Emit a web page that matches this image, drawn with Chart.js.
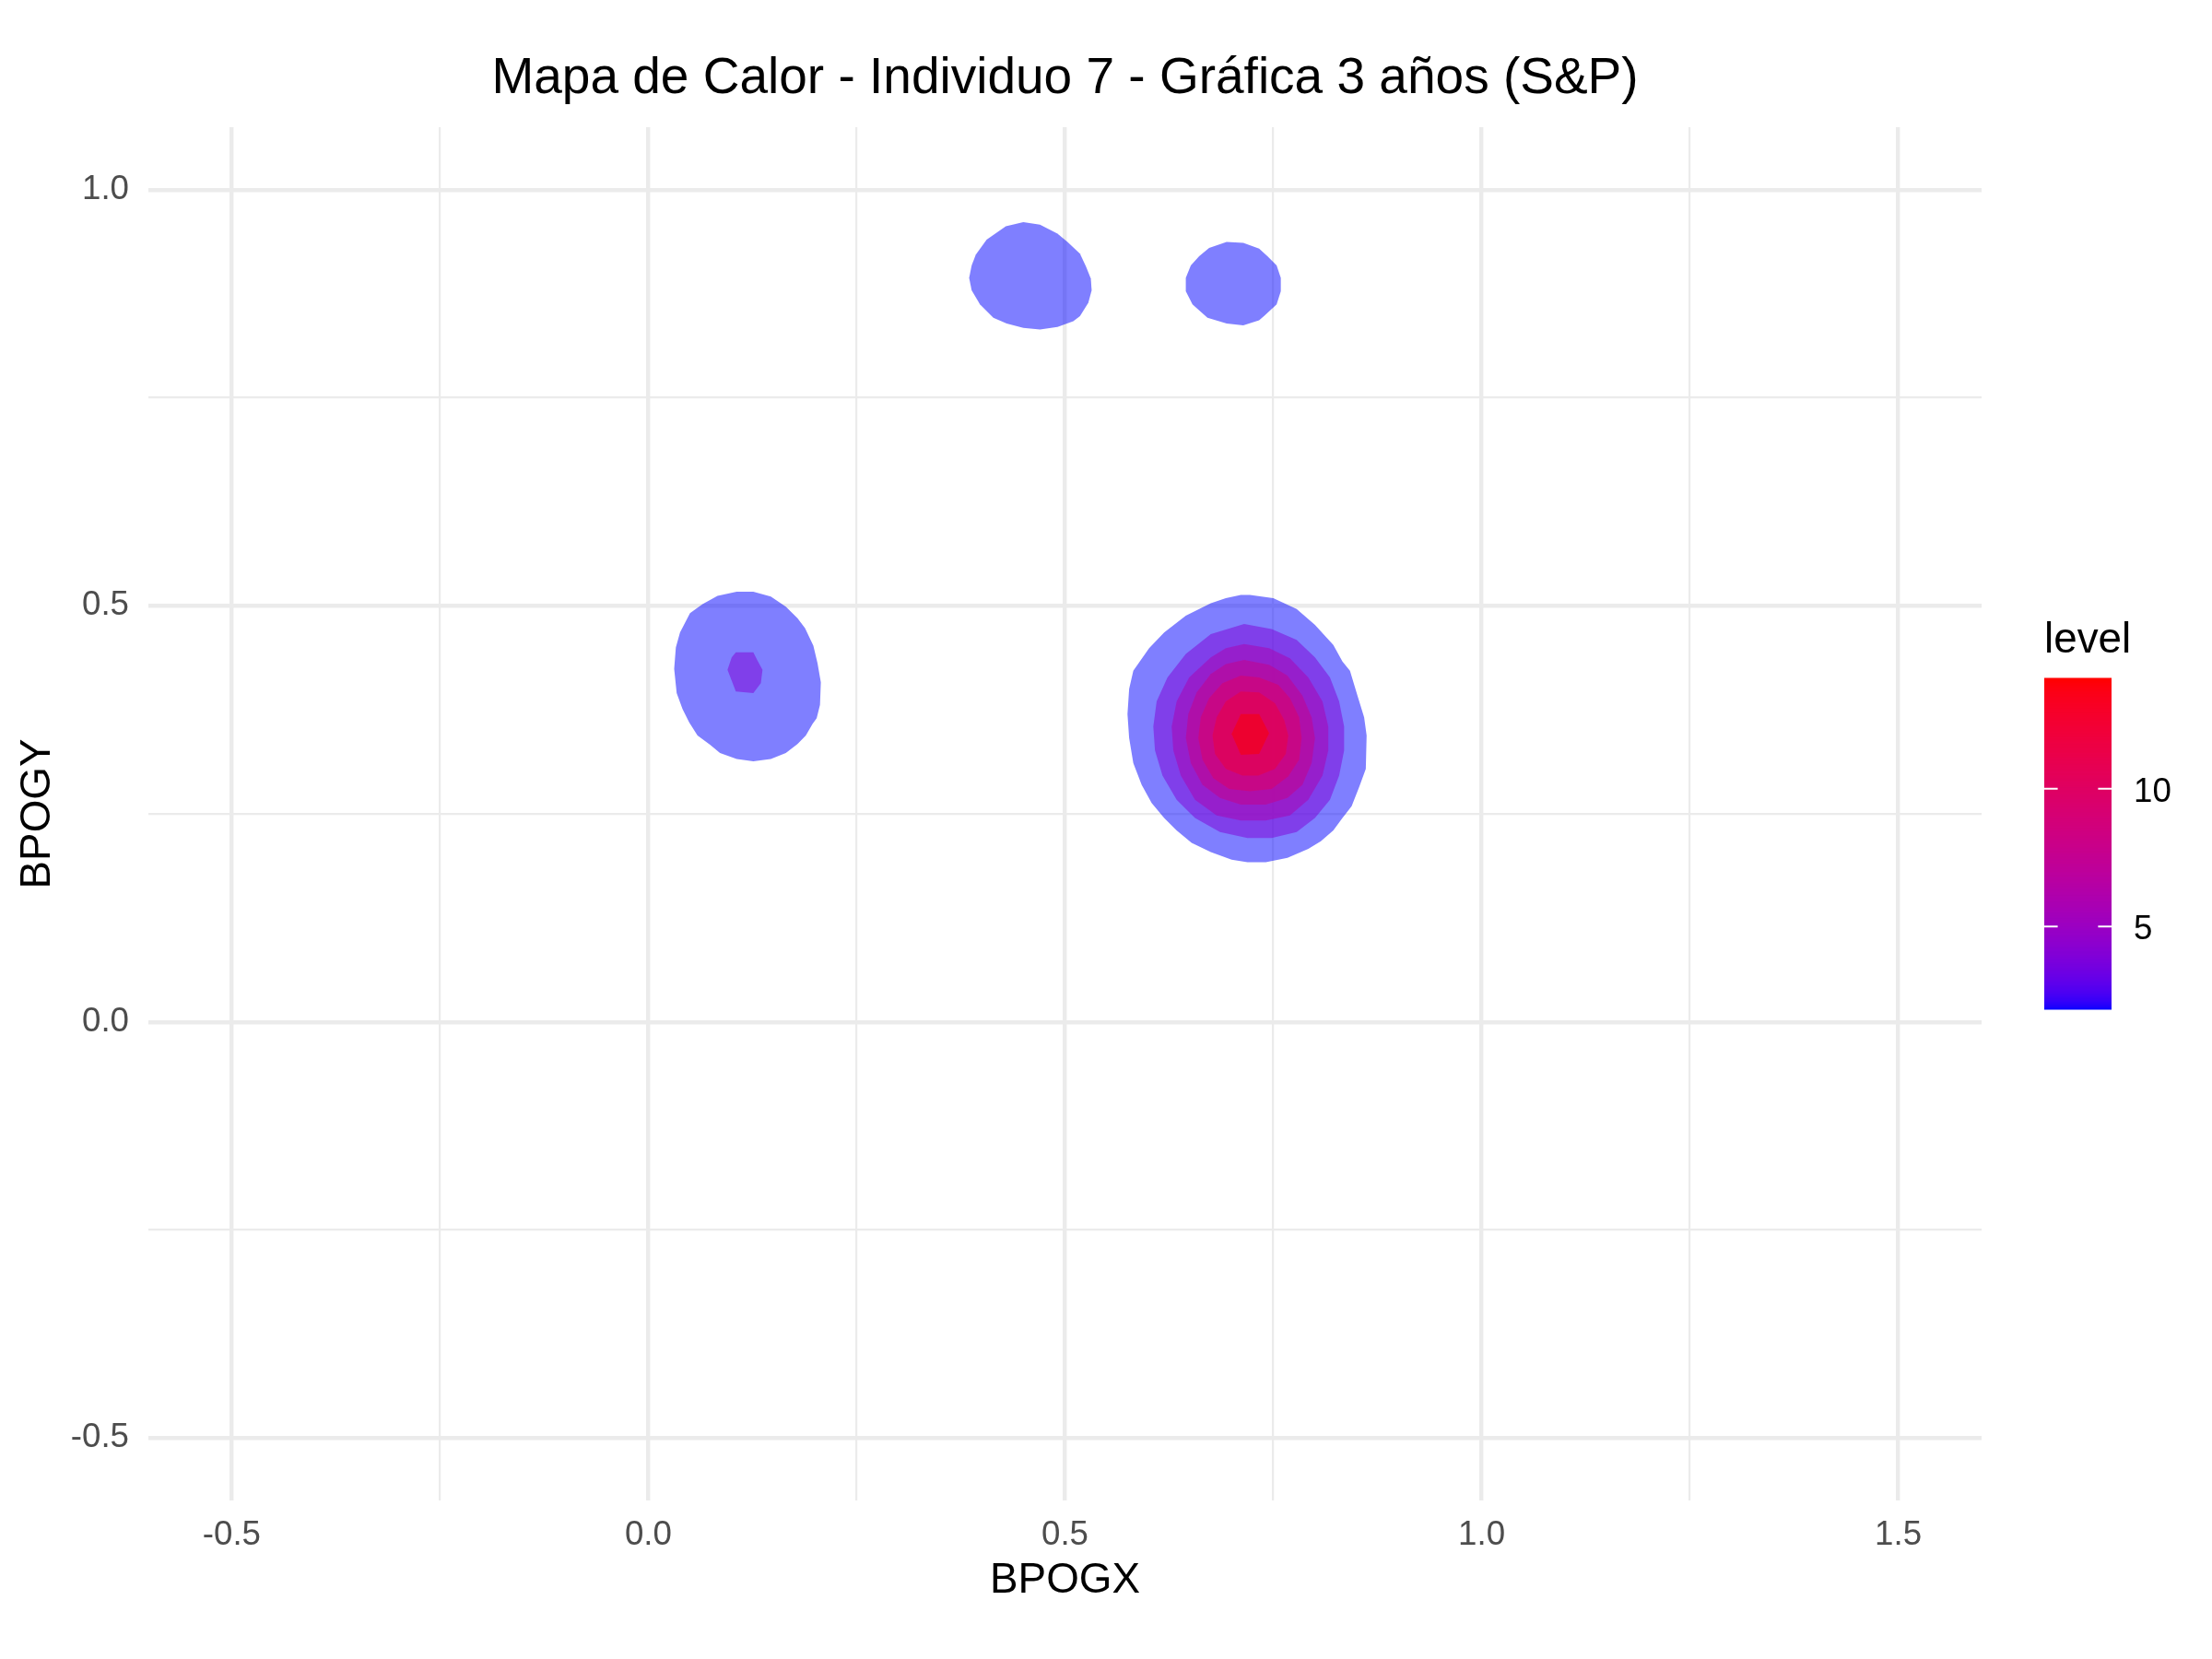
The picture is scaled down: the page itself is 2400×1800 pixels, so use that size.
<!DOCTYPE html>
<html>
<head>
<meta charset="utf-8">
<script src="https://cdn.jsdelivr.net/npm/chart.js@4.4.1/dist/chart.umd.min.js"></script>
<style>
  html, body { margin: 0; padding: 0; background: #ffffff; }
  #wrap { width: 2400px; height: 1800px; }
</style>
</head>
<body>
<div id="wrap"><canvas id="c" width="2400" height="1800"></canvas></div>
<script>
// ---------------- DATA ----------------
const chartTitle = "Mapa de Calor - Individuo 7 - Gráfica 3 años (S&P)";
const xLabel = "BPOGX";
const yLabel = "BPOGY";
const legendTitle = "level";

const xLimits = [-0.6, 1.6];
const yLimits = [-0.575, 1.075];
const xTicks = [-0.5, -0.25, 0, 0.25, 0.5, 0.75, 1.0, 1.25, 1.5];
const yTicks = [-0.5, -0.25, 0, 0.25, 0.5, 0.75, 1.0];

const contourLevels = [2, 4, 6, 8, 10, 12, 14];
const fillLimits = [2, 14];
const legendBreaks = [5, 10];
const lowColor = [0, 0, 255];
const highColor = [255, 0, 0];

// density contour polygons (x, y)
const blobA_2 = [[0.450,0.961],[0.470,0.958],[0.491,0.947],[0.503,0.937],[0.518,0.923],[0.525,0.908],[0.531,0.893],[0.532,0.879],[0.528,0.864],[0.518,0.848],[0.510,0.842],[0.491,0.835],[0.470,0.832],[0.450,0.834],[0.430,0.839],[0.414,0.846],[0.398,0.862],[0.388,0.879],[0.385,0.894],[0.388,0.909],[0.393,0.922],[0.406,0.940],[0.429,0.956]];
const blobB_2 = [[0.694,0.937],[0.714,0.936],[0.733,0.929],[0.743,0.920],[0.754,0.909],[0.759,0.894],[0.759,0.878],[0.754,0.862],[0.740,0.849],[0.733,0.843],[0.714,0.837],[0.694,0.839],[0.671,0.846],[0.653,0.862],[0.645,0.878],[0.645,0.894],[0.651,0.909],[0.661,0.920],[0.673,0.930]];
const blobC_2 = [[0.106,0.517],[0.126,0.517],[0.147,0.511],[0.165,0.499],[0.179,0.485],[0.188,0.473],[0.198,0.452],[0.203,0.431],[0.207,0.408],[0.206,0.381],[0.202,0.365],[0.197,0.358],[0.189,0.344],[0.179,0.334],[0.165,0.323],[0.147,0.316],[0.126,0.313],[0.106,0.316],[0.086,0.323],[0.074,0.333],[0.059,0.344],[0.049,0.360],[0.041,0.376],[0.034,0.395],[0.031,0.424],[0.033,0.450],[0.038,0.468],[0.050,0.491],[0.065,0.502],[0.083,0.512]];
const blobC_4 = [[0.105,0.444],[0.126,0.444],[0.131,0.434],[0.137,0.423],[0.135,0.407],[0.126,0.395],[0.105,0.397],[0.095,0.423],[0.100,0.438]];
const blobD_2 = [[0.711,0.513],[0.722,0.513],[0.750,0.509],[0.778,0.496],[0.800,0.477],[0.822,0.453],[0.833,0.433],[0.842,0.422],[0.851,0.392],[0.859,0.366],[0.862,0.344],[0.861,0.304],[0.853,0.282],[0.844,0.259],[0.833,0.245],[0.822,0.230],[0.807,0.217],[0.792,0.208],[0.767,0.197],[0.741,0.192],[0.719,0.192],[0.700,0.195],[0.675,0.204],[0.652,0.215],[0.634,0.230],[0.619,0.245],[0.604,0.263],[0.592,0.285],[0.582,0.311],[0.577,0.341],[0.575,0.370],[0.577,0.400],[0.582,0.422],[0.601,0.449],[0.619,0.468],[0.645,0.488],[0.675,0.503],[0.693,0.509]];
const blobD_4 = [[0.715,0.478],[0.748,0.472],[0.778,0.459],[0.800,0.438],[0.818,0.414],[0.829,0.385],[0.835,0.355],[0.835,0.326],[0.829,0.296],[0.818,0.267],[0.800,0.245],[0.778,0.228],[0.748,0.221],[0.719,0.221],[0.686,0.228],[0.656,0.245],[0.634,0.267],[0.617,0.296],[0.608,0.326],[0.606,0.355],[0.610,0.385],[0.623,0.414],[0.645,0.442],[0.675,0.466]];
const blobD_6 = [[0.715,0.454],[0.745,0.449],[0.770,0.437],[0.792,0.414],[0.809,0.385],[0.816,0.355],[0.816,0.326],[0.809,0.296],[0.792,0.267],[0.770,0.248],[0.741,0.242],[0.711,0.242],[0.682,0.248],[0.656,0.267],[0.639,0.296],[0.630,0.326],[0.628,0.355],[0.634,0.385],[0.649,0.414],[0.675,0.438],[0.693,0.449]];
const blobD_8 = [[0.715,0.435],[0.745,0.429],[0.767,0.416],[0.785,0.392],[0.796,0.366],[0.800,0.341],[0.796,0.311],[0.785,0.285],[0.767,0.269],[0.741,0.261],[0.711,0.261],[0.686,0.269],[0.665,0.285],[0.651,0.311],[0.645,0.341],[0.648,0.370],[0.658,0.396],[0.675,0.418],[0.693,0.430]];
const blobD_10 = [[0.711,0.416],[0.733,0.414],[0.756,0.405],[0.770,0.389],[0.781,0.366],[0.784,0.341],[0.781,0.315],[0.768,0.295],[0.748,0.280],[0.722,0.277],[0.697,0.280],[0.678,0.293],[0.665,0.315],[0.660,0.341],[0.663,0.366],[0.673,0.389],[0.689,0.407]];
const blobD_12 = [[0.711,0.397],[0.733,0.396],[0.752,0.383],[0.763,0.363],[0.768,0.344],[0.765,0.322],[0.752,0.304],[0.732,0.296],[0.713,0.296],[0.693,0.304],[0.680,0.322],[0.677,0.344],[0.682,0.366],[0.693,0.385]];
const blobD_14 = [[0.711,0.370],[0.733,0.370],[0.745,0.347],[0.733,0.322],[0.711,0.321],[0.700,0.346]];

const contourRings = [
  { level: 2,  pts: blobA_2 },
  { level: 2,  pts: blobB_2 },
  { level: 2,  pts: blobC_2 },
  { level: 4,  pts: blobC_4 },
  { level: 2,  pts: blobD_2 },
  { level: 4,  pts: blobD_4 },
  { level: 6,  pts: blobD_6 },
  { level: 8,  pts: blobD_8 },
  { level: 10, pts: blobD_10 },
  { level: 12, pts: blobD_12 },
  { level: 14, pts: blobD_14 }
];

// ---------------- COLOUR (Lab interpolation like ggplot) ----------------
function srgbToLab(c) {
  const lin = v => { v /= 255; return v <= 0.04045 ? v / 12.92 : Math.pow((v + 0.055) / 1.055, 2.4); };
  const R = lin(c[0]), G = lin(c[1]), B = lin(c[2]);
  const X = (0.4124564 * R + 0.3575761 * G + 0.1804375 * B) / 0.95047;
  const Y = (0.2126729 * R + 0.7151522 * G + 0.0721750 * B);
  const Z = (0.0193339 * R + 0.1191920 * G + 0.9503041 * B) / 1.08883;
  const f = t => t > 216 / 24389 ? Math.cbrt(t) : (24389 / 27 * t + 16) / 116;
  const fx = f(X), fy = f(Y), fz = f(Z);
  return [116 * fy - 16, 500 * (fx - fy), 200 * (fy - fz)];
}
function labToSrgb(lab) {
  const fy = (lab[0] + 16) / 116, fx = fy + lab[1] / 500, fz = fy - lab[2] / 200;
  const finv = t => { const t3 = t * t * t; return t3 > 216 / 24389 ? t3 : (116 * t - 16) / (24389 / 27); };
  const X = finv(fx) * 0.95047, Y = finv(fy), Z = finv(fz) * 1.08883;
  const r = 3.2404542 * X - 1.5371385 * Y - 0.4985314 * Z;
  const g = -0.9692660 * X + 1.8760108 * Y + 0.0415560 * Z;
  const b = 0.0556434 * X - 0.2040259 * Y + 1.0572252 * Z;
  const gam = v => { v = v <= 0.0031308 ? 12.92 * v : 1.055 * Math.pow(v, 1 / 2.4) - 0.055; return Math.round(Math.min(1, Math.max(0, v)) * 255); };
  return [gam(r), gam(g), gam(b)];
}
const labLow = srgbToLab(lowColor), labHigh = srgbToLab(highColor);
function levelRGB(v) {
  const t = Math.min(1, Math.max(0, (v - fillLimits[0]) / (fillLimits[1] - fillLimits[0])));
  return labToSrgb([0, 1, 2].map(i => labLow[i] + (labHigh[i] - labLow[i]) * t));
}
function levelColor(v, alpha) {
  const c = levelRGB(v);
  return 'rgba(' + c[0] + ',' + c[1] + ',' + c[2] + ',' + alpha + ')';
}

// ---------------- CHART ----------------
const FONT = "'Liberation Sans', Arial, Helvetica, sans-serif";
Chart.defaults.font.family = FONT;

const datasets = contourRings.map((r, i) => ({
  label: 'level ' + r.level,
  data: r.pts.concat([r.pts[0]]).map(p => ({ x: p[0], y: p[1] })),
  showLine: true,
  fill: 'shape',
  backgroundColor: levelColor(r.level, 0.5),
  borderColor: 'rgba(0,0,0,0)',
  borderWidth: 0,
  pointRadius: 0,
  tension: 0,
  order: -(i + 1)
}));

function isMajor(v) { return Math.abs(v * 2 - Math.round(v * 2)) < 1e-6; }

const colorbarPlugin = {
  id: 'colorbar',
  afterDraw(chart) {
    const ctx = chart.ctx;
    const x0 = 2218, x1 = 2291, yTop = 736, yBot = 1095;
    const w = x1 - x0, h = yBot - yTop;
    const lo = fillLimits[0], hi = fillLimits[1];
    const nbin = 300;
    ctx.save();
    for (let i = 0; i < nbin; i++) {
      const v = lo + (hi - lo) * (i + 0.5) / nbin;
      ctx.fillStyle = levelColor(v, 1);
      const yb = yBot - h * i / nbin;
      const yt = yBot - h * (i + 1) / nbin;
      ctx.fillRect(x0, yt - 0.5, w, yb - yt + 1);
    }
    const tl = w / 5;
    ctx.strokeStyle = '#ffffff';
    ctx.lineWidth = 2;
    ctx.font = '36.7px ' + FONT;
    ctx.fillStyle = '#000000';
    ctx.textAlign = 'left';
    ctx.textBaseline = 'middle';
    legendBreaks.forEach(b => {
      const y = yBot - (b - lo) / (hi - lo) * h;
      ctx.beginPath();
      ctx.moveTo(x0, y); ctx.lineTo(x0 + tl, y);
      ctx.moveTo(x1 - tl, y); ctx.lineTo(x1, y);
      ctx.stroke();
      ctx.fillText(String(b), 2315, y + 4);
    });
    ctx.font = '45.8px ' + FONT;
    ctx.textBaseline = 'alphabetic';
    ctx.fillText(legendTitle, 2218, 708);
    ctx.restore();
  }
};

new Chart(document.getElementById('c'), {
  type: 'scatter',
  data: { datasets },
  options: {
    responsive: false,
    animation: false,
    events: [],
    layout: { padding: { left: 0, top: 0, right: 250, bottom: 0 } },
    plugins: {
      legend: { display: false },
      tooltip: { enabled: false },
      title: {
        display: true,
        text: chartTitle,
        fullSize: false,
        color: '#000000',
        font: { family: FONT, size: 55, weight: 'normal', lineHeight: 1.2 },
        padding: { top: 53, bottom: 19 }
      }
    },
    scales: {
      x: {
        type: 'linear',
        min: xLimits[0], max: xLimits[1],
        afterBuildTicks: s => { s.ticks = xTicks.map(v => ({ value: v })); },
        afterFit: s => { s.height = 172; },
        border: { display: false },
        grid: {
          color: '#EBEBEB',
          lineWidth: c => isMajor(c.tick.value) ? 4.4 : 2.2,
          drawTicks: false, tickLength: 0
        },
        ticks: {
          padding: 16,
          color: '#4D4D4D',
          font: { family: FONT, size: 36.7, lineHeight: 1.2 },
          maxRotation: 0, autoSkip: false,
          callback: v => isMajor(v) ? Number(v).toFixed(1) : ''
        },
        title: {
          display: true, text: xLabel, color: '#000000',
          font: { family: FONT, size: 45.8, lineHeight: 1.2 },
          padding: { top: 0, bottom: 57 }
        }
      },
      y: {
        type: 'linear',
        min: yLimits[0], max: yLimits[1],
        afterBuildTicks: s => { s.ticks = yTicks.map(v => ({ value: v })); },
        afterFit: s => { s.width = 161; },
        border: { display: false },
        grid: {
          color: '#EBEBEB',
          lineWidth: c => isMajor(c.tick.value) ? 4.4 : 2.2,
          drawTicks: false, tickLength: 0
        },
        ticks: {
          padding: 21,
          color: '#4D4D4D',
          font: { family: FONT, size: 36.7, lineHeight: 1.2 },
          autoSkip: false,
          callback: v => isMajor(v) ? Number(v).toFixed(1) : ''
        },
        title: {
          display: true, text: yLabel, color: '#000000',
          font: { family: FONT, size: 45.8, lineHeight: 1.2 },
          padding: { top: 14, bottom: 0 }
        }
      }
    }
  },
  plugins: [colorbarPlugin]
});
</script>
</body>
</html>
